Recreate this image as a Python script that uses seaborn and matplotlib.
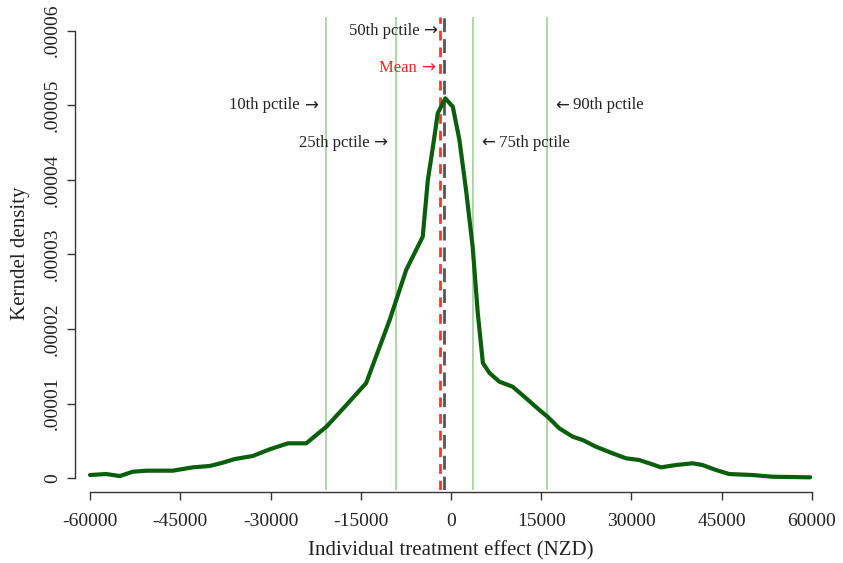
import matplotlib
matplotlib.use("Agg")
import numpy as np
import pandas as pd
import matplotlib.pyplot as plt
import seaborn as sns

# -----------------------------
# Data
# -----------------------------
effect_nzd = [-60000, -57300, -55050, -52900, -50600, -46250, -42900, -40100,
              -37950, -35950, -32950, -30150, -27100, -24050, -22400, -20700,
              -17400, -14100, -11850, -10200, -7450, -4700, -3850, -3000,
              -2200, -950, 300, 1400, 2500, 3600, 4450, 5300, 6400, 8050,
              10250, 12500, 14700, 16050, 18000, 20250, 21900, 24100, 26850,
              29100, 31300, 32950, 34900, 37400, 40150, 41800, 44050, 46250,
              50100, 53450, 59700]
density_e6 = [0.43, 0.56, 0.29, 0.87, 1.01, 1.01, 1.46, 1.64, 2.08, 2.57, 2.98,
              3.87, 4.68, 4.68, 5.79, 6.91, 9.81, 12.76, 17.63, 21.21, 27.92,
              32.38, 39.98, 44.45, 48.93, 50.94, 49.81, 45.35, 38.64, 31.04,
              22.15, 15.45, 14.11, 12.94, 12.27, 10.71, 9.14, 8.25, 6.69, 5.56,
              5.12, 4.22, 3.34, 2.67, 2.44, 2.00, 1.46, 1.77, 2.00, 1.77, 1.10,
              0.56, 0.43, 0.20, 0.12]

pctile_names = ["10th pctile", "25th pctile", "75th pctile", "90th pctile"]
pctile_values = [-20800, -9200, 3650, 16000]
pctile_text_y = [5.0e-5, 4.5e-5, 4.5e-5, 5.0e-5]
mean_value = -1900
median_value = -1150

x_ticks = [-60000, -45000, -30000, -15000, 0, 15000, 30000, 45000, 60000]
y_ticks = [0, 0.00001, 0.00002, 0.00003, 0.00004, 0.00005, 0.00006]
y_tick_labels = ["0", ".00001", ".00002", ".00003", ".00004", ".00005", ".00006"]

df = pd.DataFrame({"effect": effect_nzd,
                   "density": np.array(density_e6) * 1e-6})

# -----------------------------
# Style
# -----------------------------
sns.set_style("ticks")
plt.rcParams["font.family"] = ["Liberation Serif", "DejaVu Serif"]

fig = plt.figure(figsize=(8.43, 5.63), dpi=100)
ax = fig.add_axes([75 / 843, 1 - 490 / 563, 752 / 843, 473 / 563])

# percentile lines
for v in pctile_values:
    ax.axvline(v, color="#a8d2a2", lw=1.3, zorder=1)

ax.axvline(mean_value, color="#ff3333", lw=2, dashes=(3.5, 2.5), zorder=2)
ax.axvline(median_value, color="#555555", lw=2, dashes=(5, 2.5), zorder=2)

sns.lineplot(data=df, x="effect", y="density", color="#0b5e0b", lw=3,
             ax=ax, zorder=3)


# labels for the lines: name in serif, long thin arrow from DejaVu Sans
def arrow_label(name, x, y, right_side, gap, color="#222222"):
    if right_side:
        arr = ax.annotate("\u2190", xy=(x, y), xytext=(gap, 0),
                          textcoords="offset points", ha="left", va="center",
                          fontsize=12, color=color, family="DejaVu Sans")
        ax.annotate(" " + name, xy=(1, 0.5), xycoords=arr, ha="left",
                    va="center", fontsize=12, color=color)
    else:
        arr = ax.annotate("\u2192", xy=(x, y), xytext=(-gap, 0),
                          textcoords="offset points", ha="right", va="center",
                          fontsize=12, color=color, family="DejaVu Sans")
        ax.annotate(name + " ", xy=(0, 0.5), xycoords=arr, ha="right",
                    va="center", fontsize=12, color=color)


arrow_label("50th pctile", median_value, 6.0e-5, False, 5)
arrow_label("Mean", mean_value, 5.5e-5, False, 3.5, color="#ff2020")
for name, v, ty in zip(pctile_names, pctile_values, pctile_text_y):
    arrow_label(name, v, ty, v > 0, 6)

# axes
ax.set_xlim(-62500, 62500)
ax.set_ylim(-1.58e-6, 6.184e-5)
ax.set_xticks(x_ticks)
ax.set_xticklabels([str(t) for t in x_ticks])
ax.set_yticks(y_ticks)
ax.set_yticklabels(y_tick_labels, rotation=90, va="center")
ax.tick_params(axis="both", labelsize=14, length=6, width=1,
               color="#333333", labelcolor="#222222")
ax.tick_params(axis="x", pad=9)
ax.tick_params(axis="y", pad=4)

sns.despine(ax=ax)
ax.spines["bottom"].set_bounds(-60000, 60000)
ax.spines["bottom"].set_position(("outward", 1.5))
ax.spines["left"].set_bounds(0, 0.00006)
for s in ["bottom", "left"]:
    ax.spines[s].set_color("#333333")
    ax.spines[s].set_linewidth(1)

ax.set_xlabel("Individual treatment effect (NZD)", fontsize=15,
              color="#222222", labelpad=8)
ax.set_ylabel("Kerndel density", fontsize=15, color="#222222", labelpad=10)

fig.savefig("out.png", dpi=100)
